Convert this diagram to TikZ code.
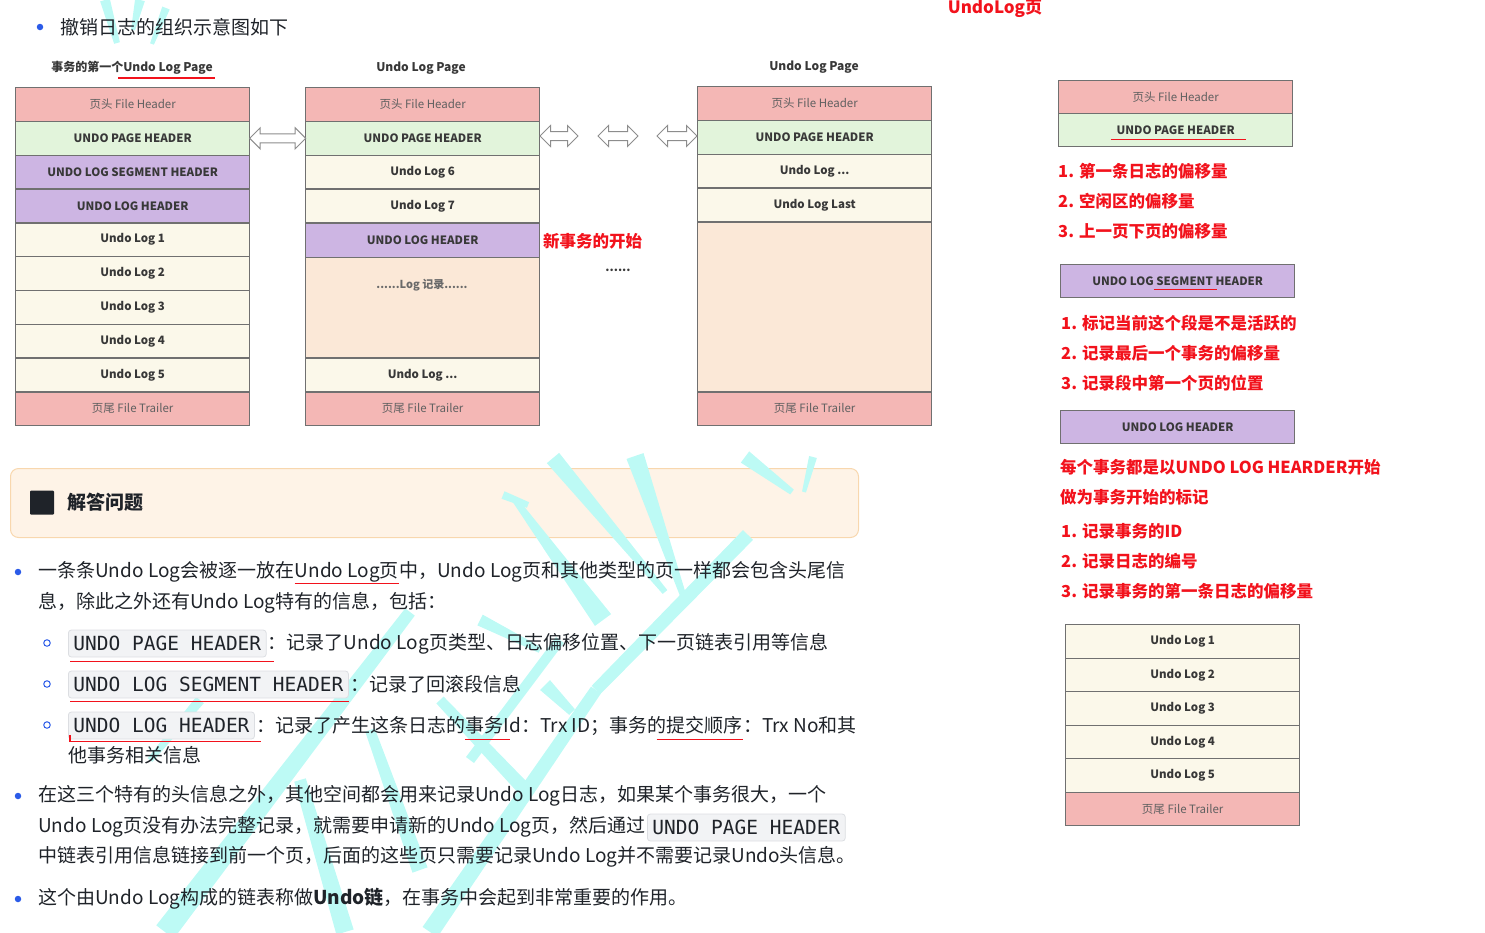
\documentclass[tikz,border=0pt]{standalone}
\usepackage{fontspec}
\setmainfont{Noto Sans CJK SC}
\setmonofont{DejaVu Sans Mono}
\usetikzlibrary{shapes.arrows,calc}
\definecolor{pinkc}{HTML}{F4B7B5}
\definecolor{greenc}{HTML}{E2F4DB}
\definecolor{purplec}{HTML}{CDB5E3}
\definecolor{creamc}{HTML}{FBF8EA}
\definecolor{orangec}{HTML}{FBE8D7}
\definecolor{edgec}{HTML}{707070}
\definecolor{labc}{HTML}{383838}
\definecolor{redc}{HTML}{F2121C}
\definecolor{bodyc}{HTML}{1F2329}
\definecolor{bluec}{HTML}{2B5BE8}
\definecolor{codefill}{HTML}{F2F3F5}
\definecolor{codeedge}{HTML}{DCDEE2}
\definecolor{callfill}{HTML}{FEF3E7}
\definecolor{calledge}{HTML}{F8D7AE}
\definecolor{wmc}{HTML}{BDFAF5}
\tikzset{
  row/.style={draw=edgec, line width=1.3pt, anchor=north west, minimum width=234pt,
    minimum height=33.8pt, inner sep=0pt, font=\fontsize{11.5}{12}\selectfont\bfseries, text=labc},
  fh/.style={row, fill=pinkc, font=\fontsize{11.5}{12}\selectfont, text=labc!80},
  ph/.style={row, fill=greenc},
  lh/.style={row, fill=purplec},
  ul/.style={row, fill=creamc},
  lr/.style={row, fill=orangec},
  ttl/.style={font=\fontsize{12}{13}\selectfont\bfseries, text=labc, inner sep=0pt},
  darrow/.style={shape=double arrow, draw=edgec!80, fill=white, line width=1pt,
    inner sep=4pt, double arrow head extend=6pt},
  redt/.style={font=\fontsize{16.5}{18}\selectfont\bfseries, text=redc, anchor=west, inner sep=0pt},
  body/.style={font=\fontsize{19}{22}\selectfont, text=bodyc, inner sep=0pt},
  code/.style={draw=codeedge, fill=codefill, rounded corners=3pt, line width=0.8pt,
    font=\fontsize{19.5}{21}\ttfamily, text=bodyc, inner xsep=5pt, inner ysep=0pt,
    minimum height=27pt, anchor=west},
  redline/.style={draw=redc, line width=1.5pt},
  dot/.style={circle, fill=bluec, inner sep=0pt, minimum size=6.5pt},
  hdot/.style={circle, draw=bluec, line width=1pt, inner sep=0pt, minimum size=6.5pt},
  wm/.style={fill=wmc}
}
% tapered watermark stroke: from (#1) to (#2), half widths #3 and #4
\newcommand\wmstroke[4]{\fill[wm] ($(#1)!#3!90:(#2)$) -- ($(#1)!#3!-90:(#2)$)
  -- ($(#2)!#4!90:(#1)$) -- ($(#2)!#4!-90:(#1)$) -- cycle;}
\begin{document}
\begin{tikzpicture}[x=1pt,y=-1pt]
\useasboundingbox (0,0) rectangle (1485,932);

% ---------- callout background ----------
\node[draw=calledge, fill=callfill, rounded corners=8pt, line width=1pt, anchor=north west,
  minimum width=848pt, minimum height=69pt, inner sep=0pt] (call) at (10,468) {};

% ---------- watermark strokes ----------
\wmstroke{105,0}{117,43}{5pt}{3pt}
\wmstroke{140,0}{133,30}{5pt}{2pt}
\wmstroke{166,8}{152,44}{4pt}{2pt}
\wmstroke{553,458}{665,592}{8pt}{3pt}
\wmstroke{515,500}{603,620}{3pt}{10pt}
\wmstroke{503,495}{528,505}{4pt}{3pt}
\wmstroke{635,456}{684,598}{9pt}{3pt}
\wmstroke{748,535}{596,690}{7pt}{6pt}
\wmstroke{596,690}{430,932}{6pt}{9pt}
\wmstroke{745,457}{792,492}{7pt}{3pt}
\wmstroke{813,457}{804,492}{4pt}{2pt}
\wmstroke{480,620}{540,650}{6pt}{3pt}
\wmstroke{410,612}{165,932}{6pt}{11pt}
\wmstroke{560,640}{470,760}{5pt}{5pt}
\wmstroke{440,700}{525,790}{5pt}{7pt}
\wmstroke{370,730}{420,870}{5pt}{8pt}
\wmstroke{300,780}{345,932}{6pt}{9pt}
\wmstroke{545,685}{572,712}{7pt}{4pt}
\wmstroke{200,700}{150,760}{5pt}{3pt}

% ---------- top bullet ----------
\node[dot] (b0) at (40,27) {};
\node[body, anchor=west] (t0) at (60,27) {撤销日志的组织示意图如下};

% ---------- column 1 ----------
\node[ttl] (c1t) at (132,68) {事务的第一个Undo Log Page};
\draw[redline] ([xshift=-14pt,yshift=-10pt]c1t.center) -- ([xshift=83pt,yshift=-10pt]c1t.center);
\node[fh] (c1fh) at (15,87) {页头 File Header};
\node[ph] (c1ph) at (15,120.8) {UNDO PAGE HEADER};
\node[lh] (c1sg) at (15,154.6) {UNDO LOG SEGMENT HEADER};
\node[lh] (c1lh) at (15,188.4) {UNDO LOG HEADER};
\node[ul] (c1l1) at (15,222.2) {Undo Log 1};
\node[ul] (c1l2) at (15,256) {Undo Log 2};
\node[ul] (c1l3) at (15,289.8) {Undo Log 3};
\node[ul] (c1l4) at (15,323.6) {Undo Log 4};
\node[ul] (c1l5) at (15,357.4) {Undo Log 5};
\node[fh] (c1tr) at (15,391.2) {页尾 File Trailer};

% ---------- column 2 ----------
\node[ttl] (c2t) at (421,68) {Undo Log Page};
\node[fh] (c2fh) at (305,87) {页头 File Header};
\node[ph] (c2ph) at (305,120.8) {UNDO PAGE HEADER};
\node[ul] (c2l6) at (305,154.6) {Undo Log 6};
\node[ul] (c2l7) at (305,188.4) {Undo Log 7};
\node[lh, minimum height=34.8pt] (c2lh) at (305,222.2) {UNDO LOG HEADER};
\node[lr, minimum height=100.2pt] (c2rec) at (305,257) {};
\node[font=\fontsize{11}{12}\selectfont\bfseries, text=labc!75, inner sep=0pt] (c2rt) at (422,285) {......Log 记录......};
\node[ul, minimum height=34pt] (c2ld) at (305,357.2) {Undo Log ...};
\node[fh] (c2tr) at (305,391.2) {页尾 File Trailer};
\node[redt] (newtx) at (543,241) {新事务的开始};
\node[font=\fontsize{12}{13}\selectfont\bfseries, text=labc, inner sep=0pt] (dots) at (618,270) {......};

% ---------- column 3 ----------
\node[ttl] (c3t) at (814,67) {Undo Log Page};
\node[fh] (c3fh) at (697,86) {页头 File Header};
\node[ph] (c3ph) at (697,119.8) {UNDO PAGE HEADER};
\node[ul] (c3ld) at (697,153.6) {Undo Log ...};
\node[ul] (c3la) at (697,187.4) {Undo Log Last};
\node[lr, minimum height=170pt] (c3em) at (697,221.2) {};
\node[fh] (c3tr) at (697,391.2) {页尾 File Trailer};

% ---------- double arrows ----------
\path (c1ph.east) -- (c2ph.west) node[midway, darrow, minimum height=56pt] (a1) {};
\node[darrow, minimum height=38pt] (a2) at (559,136) {};
\node[darrow, minimum height=40pt] (a3) at (618,136) {};
\node[darrow, minimum height=40pt] (a4) at (677,136) {};

% ---------- right side ----------
\node[redt, font=\fontsize{17}{18}\selectfont\bfseries, anchor=center] (ttlR) at (995,9) {UndoLog页};
\node[fh] (rfh) at (1058,80) {页头 File Header};
\node[ph, minimum height=33pt] (rph) at (1058,113) {UNDO PAGE HEADER};
\draw[redline] ([xshift=-65pt,yshift=-9.5pt]rph.center) -- ([xshift=70pt,yshift=-9.5pt]rph.center);
\node[redt] (r11) at (1058,171) {1. 第一条日志的偏移量};
\node[redt] (r12) at (1058,201) {2. 空闲区的偏移量};
\node[redt] (r13) at (1058,231) {3. 上一页下页的偏移量};

\node[lh, minimum height=33pt] (rsg) at (1060,264) {UNDO LOG SEGMENT HEADER};
\draw[redline] ([xshift=-24pt,yshift=-8.5pt]rsg.center) -- ([xshift=39pt,yshift=-8.5pt]rsg.center);
\node[redt] (r21) at (1061,323) {1. 标记当前这个段是不是活跃的};
\node[redt] (r22) at (1061,353) {2. 记录最后一个事务的偏移量};
\node[redt] (r23) at (1061,383) {3. 记录段中第一个页的位置};

\node[lh, minimum height=33pt] (rlh) at (1060,410) {UNDO LOG HEADER};
\node[redt] (r30) at (1060,467) {每个事务都是以UNDO LOG HEARDER开始};
\node[redt] (r31) at (1060,497) {做为事务开始的标记};
\node[redt] (r32) at (1061,531) {1. 记录事务的ID};
\node[redt] (r33) at (1061,561) {2. 记录日志的编号};
\node[redt] (r34) at (1061,591) {3. 记录事务的第一条日志的偏移量};

\node[ul, minimum height=33.5pt] (rl1) at (1065,624) {Undo Log 1};
\node[ul, minimum height=33.5pt] (rl2) at (1065,657.5) {Undo Log 2};
\node[ul, minimum height=33.5pt] (rl3) at (1065,691) {Undo Log 3};
\node[ul, minimum height=33.5pt] (rl4) at (1065,724.5) {Undo Log 4};
\node[ul, minimum height=33.5pt] (rl5) at (1065,758) {Undo Log 5};
\node[fh, minimum height=33.5pt] (rtr) at (1065,791.5) {页尾 File Trailer};

% ---------- callout content ----------
\node[fill=bodyc, rounded corners=1pt, minimum size=24pt, inner sep=0pt] (sq) at (42,502.5) {};
\node[body, font=\fontsize{19}{22}\selectfont\bfseries, anchor=west] (callt) at (67,502) {解答问题};

% ---------- bullet 1 ----------
\node[dot] (b1) at (18,572) {};
\node[body, anchor=west] (p1a) at (38,572) {一条条Undo Log会被逐一放在};
\node[body, anchor=base west] (p1b) at (p1a.base east) {Undo Log页};
\node[body, anchor=base west] (p1c) at (p1b.base east) {中，Undo Log页和其他类型的页一样都会包含头尾信};
\draw[redline] ([yshift=-6pt]p1b.base west) -- ([yshift=-6pt]p1b.base east);
\node[body, anchor=west] (p1d) at (38,603) {息，除此之外还有Undo Log特有的信息，包括：};

\node[hdot] (s1) at (47,643) {};
\node[code] (k1) at (68,643.5) {UNDO PAGE HEADER};
\node[body, anchor=west] (k1t) at ([xshift=1pt]k1.east) {：记录了Undo Log页类型、日志偏移位置、下一页链表引用等信息};
\draw[redline] ([xshift=2pt,yshift=-4pt]k1.south west) -- ([xshift=7pt,yshift=-4pt]k1.south east);

\node[hdot] (s2) at (47,684) {};
\node[code] (k2) at (68,684.5) {UNDO LOG SEGMENT HEADER};
\node[body, anchor=west] (k2t) at ([xshift=1pt]k2.east) {：记录了回滚段信息};
\draw[redline] ([xshift=2pt,yshift=-3pt]k2.south west) -- ([xshift=0pt,yshift=-3pt]k2.south east);

\node[hdot] (s3) at (47,725) {};
\node[code] (k3) at (68,725.5) {UNDO LOG HEADER};
\node[body, anchor=west] (k3a) at ([xshift=1pt]k3.east) {：记录了产生这条日志的};
\node[body, anchor=base west] (k3b) at (k3a.base east) {事务};
\node[body, anchor=base west] (k3c) at (k3b.base east) {Id：Trx ID；事务的};
\node[body, anchor=base west] (k3d) at (k3c.base east) {提交顺序};
\node[body, anchor=base west] (k3e) at (k3d.base east) {：Trx No和其};
\draw[redline] ([xshift=2pt,yshift=4pt]k3.south west) -- ([xshift=2pt,yshift=-2pt]k3.south west) -- ([xshift=6pt,yshift=-2pt]k3.south east);
\draw[redline] ([yshift=-7pt]k3b.base west) -- ([xshift=6pt,yshift=-7pt]k3b.base east);
\draw[redline] ([xshift=-10pt,yshift=-7pt]k3d.base west) -- ([yshift=-7pt]k3d.base east);
\node[body, anchor=west] (k3f) at (68,755) {他事务相关信息};

% ---------- bullet 2 ----------
\node[dot] (b2) at (18,796) {};
\node[body, anchor=west] (p2a) at (38,796) {在这三个特有的头信息之外，其他空间都会用来记录Undo Log日志，如果某个事务很大，一个};
\node[body, anchor=west] (p2b) at (38,827) {Undo Log页没有办法完整记录，就需要申请新的Undo Log页，然后通过};
\node[code] (k4) at (647,827.5) {UNDO PAGE HEADER};
\node[body, anchor=west] (p2c) at (38,857) {中链表引用信息链接到前一个页，后面的这些页只需要记录Undo Log并不需要记录Undo头信息。};

% ---------- bullet 3 ----------
\node[dot] (b3) at (18,899) {};
\node[body, anchor=west] (p3) at (38,899) {这个由Undo Log构成的链表称做{\bfseries Undo链}，在事务中会起到非常重要的作用。};
\end{tikzpicture}
\end{document}
